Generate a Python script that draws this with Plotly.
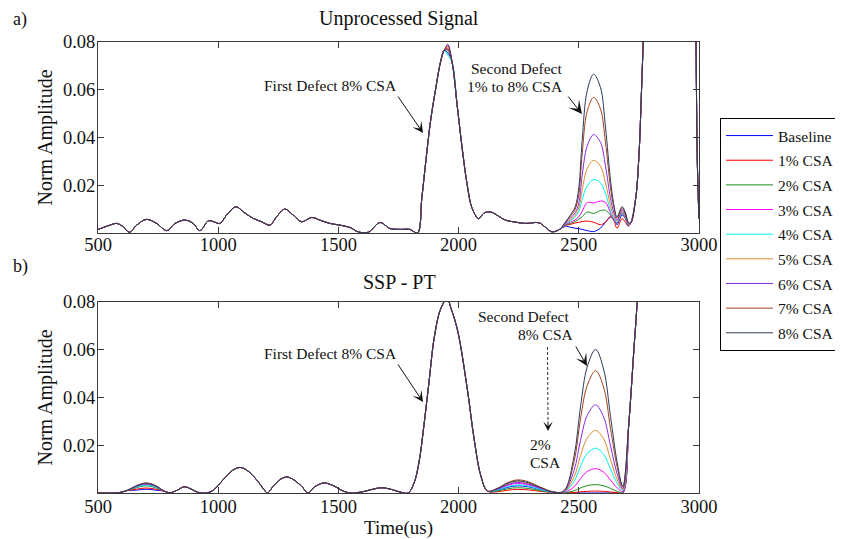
import plotly.graph_objects as go

FONT = "Liberation Serif"
TXT = "#111111"

# ---------------- series ----------------
series_names = ["Baseline", "1% CSA", "2% CSA", "3% CSA", "4% CSA",
                "5% CSA", "6% CSA", "7% CSA", "8% CSA"]
series_colors = ["#0000FF", "#FF0000", "#1E8C1E", "#FF00FF", "#00F0F0",
                 "#E08A2E", "#8A2BE2", "#A5421A", "#2C3A5C"]

x_ticks = [500, 1000, 1500, 2000, 2500, 3000]
y_ticks = [0.02, 0.04, 0.06, 0.08]

# ---------------- a) Unprocessed signal ----------------
top_pre_t = [500, 522, 550, 578, 605, 630, 661, 702, 744, 786, 820, 862, 896, 924,
             959, 979, 1007, 1035, 1074, 1104, 1146, 1181, 1215, 1243, 1277, 1312,
             1347, 1389, 1423, 1465, 1506, 1548, 1582, 1624, 1673, 1714, 1756, 1797,
             1829, 1847, 1862, 1883, 1904, 1925, 1940]
top_pre_v = [0.0015, 0.0023, 0.0033, 0.0040, 0.0026, 0.0003, 0.0033, 0.0057, 0.0040,
             0.0010, 0.0040, 0.0054, 0.0040, 0.0010, 0.0051, 0.0048, 0.0040, 0.0075,
             0.0110, 0.0089, 0.0061, 0.0047, 0.0033, 0.0068, 0.0100, 0.0075, 0.0047,
             0.0065, 0.0054, 0.0040, 0.0033, 0.0023, 0.0005, 0.0003, 0.0044, 0.0019,
             0.0015, 0.0015, 0.0000, 0.0146, 0.0285, 0.0467, 0.0600, 0.0717, 0.0765]
top_apex_t = 1955
top_apex_v = [0.0755, 0.0775, 0.0765, 0.0785, 0.0745, 0.0780, 0.0770, 0.0768, 0.0790]
top_post_t = [1973, 1994, 2015, 2036, 2056, 2084, 2105, 2133, 2167, 2195, 2240, 2278,
              2334, 2360, 2388, 2420]
top_post_v = [0.0715, 0.0535, 0.0354, 0.0200, 0.0104, 0.0060, 0.0083, 0.0088, 0.0070,
              0.0054, 0.0045, 0.0040, 0.0043, 0.0025, 0.0005, 0.0015]

top_def_t = [2445, 2465, 2485, 2500, 2514, 2535, 2562, 2590, 2611, 2632, 2645, 2659,
             2680, 2694, 2705]
top_def_base = [0.0028, 0.0024, 0.0020, 0.0018, 0.0015, 0.0010, 0.0006, 0.0020, 0.0045,
                0.0066, 0.0062, 0.0035, 0.0075, 0.0060, 0.0030]
top_def_1 = [0.0032, 0.0036, 0.0042, 0.0045, 0.0048, 0.0050, 0.0045, 0.0035, 0.0045,
             0.0070, 0.0055, 0.0020, 0.0060, 0.0045, 0.0030]
top_def_2 = [0.0034, 0.0040, 0.0048, 0.0058, 0.0068, 0.0088, 0.0082, 0.0094, 0.0095,
             0.0075, 0.0052, 0.0040, 0.0082, 0.0062, 0.0033]
top_def_3 = [0.0036, 0.0045, 0.0055, 0.0068, 0.0090, 0.0128, 0.0126, 0.0134, 0.0128,
             0.0085, 0.0055, 0.0042, 0.0085, 0.0065, 0.0035]
top_def_4 = [0.0038, 0.0050, 0.0068, 0.0090, 0.0140, 0.0198, 0.0224, 0.0210, 0.0165,
             0.0095, 0.0062, 0.0045, 0.0088, 0.0068, 0.0038]
top_def_5 = [0.0040, 0.0055, 0.0075, 0.0105, 0.0180, 0.0270, 0.0304, 0.0280, 0.0210,
             0.0115, 0.0072, 0.0050, 0.0092, 0.0070, 0.0040]
top_def_6 = [0.0042, 0.0062, 0.0085, 0.0125, 0.0240, 0.0365, 0.0412, 0.0380, 0.0280,
             0.0145, 0.0088, 0.0055, 0.0098, 0.0075, 0.0042]
top_def_7 = [0.0045, 0.0070, 0.0100, 0.0160, 0.0330, 0.0510, 0.0568, 0.0520, 0.0380,
             0.0190, 0.0110, 0.0062, 0.0105, 0.0080, 0.0045]
top_def_8 = [0.0047, 0.0075, 0.0110, 0.0190, 0.0388, 0.0596, 0.0665, 0.0610, 0.0443,
             0.0220, 0.0124, 0.0068, 0.0110, 0.0085, 0.0047]
top_defects = [top_def_base, top_def_1, top_def_2, top_def_3, top_def_4,
               top_def_5, top_def_6, top_def_7, top_def_8]

top_tail_t = [2715, 2736, 2750, 2761, 2768, 2790, 2975, 2985, 2993, 3000]
top_tail_v = [0.0040, 0.0140, 0.0320, 0.0600, 0.0800, 0.1400, 0.1400, 0.1000, 0.0300, 0.0060]

# ---------------- b) SSP - PT ----------------
bot_a_t = [500, 560, 590, 620]
bot_a_v = [0.0, 0.0, 0.0002, 0.0010]
bot_b700_t = [660, 700, 740]
bot_b700_base = [0.0012, 0.0016, 0.0012]
bot_b700_1 = [0.0016, 0.0021, 0.0016]
bot_b700_2 = [0.0022, 0.0030, 0.0022]
bot_b700_3 = [0.0026, 0.0035, 0.0026]
bot_b700_4 = [0.0025, 0.0033, 0.0025]
bot_b700_5 = [0.0030, 0.0040, 0.0029]
bot_b700_6 = [0.0028, 0.0038, 0.0028]
bot_b700_7 = [0.0031, 0.0042, 0.0031]
bot_b700_8 = [0.0030, 0.0041, 0.0030]
bot_b700 = [bot_b700_base, bot_b700_1, bot_b700_2, bot_b700_3, bot_b700_4,
            bot_b700_5, bot_b700_6, bot_b700_7, bot_b700_8]
bot_c_t = [775, 800, 830, 860, 890, 915, 950, 980, 1020, 1060, 1090, 1120, 1160, 1190,
           1205, 1230, 1260, 1285, 1310, 1345, 1375, 1400, 1440, 1480, 1520, 1550, 1600,
           1640, 1680, 1720, 1760, 1790, 1814, 1835, 1855, 1876, 1899, 1925, 1952, 1968,
           1996, 2037, 2065, 2093, 2120]
bot_c_v = [0.0008, 0.0001, 0.0012, 0.0026, 0.0015, 0.0003, 0.0, 0.0012, 0.0055, 0.0095,
           0.0107, 0.0095, 0.0055, 0.0015, 0.0, 0.0030, 0.0058, 0.0067, 0.0058, 0.0030,
           0.0, 0.0025, 0.0042, 0.0030, 0.0008, 0.0, 0.0005, 0.0015, 0.0022, 0.0015,
           0.0003, 0.0, 0.0040, 0.0127, 0.0277, 0.0457, 0.0653, 0.0770, 0.0815, 0.0775,
           0.0680, 0.0430, 0.0223, 0.0070, 0.0008]

bot_def_t = [2160, 2205, 2245, 2290, 2340, 2390, 2437, 2480, 2507, 2535, 2570, 2604,
             2632, 2660, 2683]
bot_def_base = [0.0011, 0.0024, 0.0030, 0.0026, 0.0014, 0.0003, 0.0, 0.0, 0.0, 0.0,
                0.0, 0.0, 0.0, 0.0, 0.0]
bot_def_1 = [0.0005, 0.0012, 0.0015, 0.0013, 0.0007, 0.0002, 0.0, 0.0002, 0.0005,
             0.0007, 0.0008, 0.0007, 0.0004, 0.0002, 0.0001]
bot_def_2 = [0.0008, 0.0018, 0.0022, 0.0019, 0.0010, 0.0002, 0.0001, 0.0009, 0.0021,
             0.0031, 0.0035, 0.0030, 0.0019, 0.0007, 0.0003]
bot_def_3 = [0.0014, 0.0032, 0.0040, 0.0034, 0.0018, 0.0004, 0.0002, 0.0026, 0.0060,
             0.0090, 0.0102, 0.0087, 0.0054, 0.0021, 0.0006]
bot_def_4 = [0.0012, 0.0027, 0.0034, 0.0029, 0.0015, 0.0003, 0.0003, 0.0048, 0.0112,
             0.0166, 0.0188, 0.0161, 0.0100, 0.0040, 0.0010]
bot_def_5 = [0.0017, 0.0038, 0.0048, 0.0041, 0.0022, 0.0005, 0.0004, 0.0067, 0.0156,
             0.0230, 0.0262, 0.0225, 0.0140, 0.0055, 0.0013]
bot_def_6 = [0.0015, 0.0035, 0.0044, 0.0037, 0.0020, 0.0004, 0.0005, 0.0094, 0.0220,
             0.0325, 0.0369, 0.0316, 0.0197, 0.0078, 0.0018]
bot_def_7 = [0.0019, 0.0044, 0.0055, 0.0047, 0.0025, 0.0006, 0.0007, 0.0130, 0.0310,
             0.0450, 0.0512, 0.0440, 0.0270, 0.0107, 0.0024]
bot_def_8 = [0.0018, 0.0041, 0.0051, 0.0043, 0.0023, 0.0005, 0.0008, 0.0153, 0.0360,
             0.0528, 0.0601, 0.0515, 0.0320, 0.0126, 0.0028]
bot_defects = [bot_def_base, bot_def_1, bot_def_2, bot_def_3, bot_def_4,
               bot_def_5, bot_def_6, bot_def_7, bot_def_8]

bot_tail_t = [2708, 2729, 2743, 2760, 2800, 3000]
bot_tail_v = [0.0290, 0.0598, 0.0806, 0.1200, 0.2000, 0.2000]

# ---------------- layout geometry ----------------
OFF = 8                      # page body margin of the html page
W, H = 843 - OFF, 539 - OFF
ML, MT = 98 - OFF, 42 - OFF
PW, PH = 601, 451
MR = W - ML - PW
MB = H - MT - PH


def pp(x, y):
    """reference-picture pixel -> paper coordinates"""
    return ((x - OFF) - ML) / PW, (H - MB - (y - OFF)) / PH


top_dom = [pp(0, 233)[1], 1.0]
bot_dom = [0.0, pp(0, 302)[1]]

fig = go.Figure()
for i, name in enumerate(series_names):
    xt = top_pre_t + [top_apex_t] + top_post_t + top_def_t + top_tail_t
    yt = top_pre_v + [top_apex_v[i]] + top_post_v + top_defects[i] + top_tail_v
    fig.add_trace(go.Scatter(
        x=xt, y=yt, mode="lines", name=name, legendgroup=name,
        line=dict(color=series_colors[i], width=1, shape="spline"),
        xaxis="x", yaxis="y", showlegend=True))
for i, name in enumerate(series_names):
    xb = bot_a_t + bot_b700_t + bot_c_t + bot_def_t + bot_tail_t
    yb = bot_a_v + bot_b700[i] + bot_c_v + bot_defects[i] + bot_tail_v
    fig.add_trace(go.Scatter(
        x=xb, y=yb, mode="lines", name=name, legendgroup=name,
        line=dict(color=series_colors[i], width=1, shape="spline"),
        xaxis="x2", yaxis="y2", showlegend=False))

AXC = "#3a3a3a"
tickfont = dict(family=FONT, size=18.5, color=TXT)
xcommon = dict(range=[500, 3000], tickvals=x_ticks, showline=True, linecolor=AXC,
               linewidth=1, mirror="ticks", ticks="inside", ticklen=6, tickcolor=AXC,
               showgrid=False, zeroline=False, tickfont=tickfont, domain=[0, 1])
ycommon = dict(range=[0, 0.08], tickvals=y_ticks, tickformat=".2f", showline=True,
               linecolor=AXC, linewidth=1, mirror="ticks", ticks="inside", ticklen=6,
               tickcolor=AXC, showgrid=False, zeroline=False, tickfont=tickfont,
               ticklabelstandoff=-2)

ytitle = dict(text="Norm Amplitude", font=dict(family=FONT, size=20, color=TXT), standoff=4)

fig.update_layout(
    width=W, height=H,
    margin=dict(l=ML, r=MR, t=MT, b=MB, autoexpand=False),
    paper_bgcolor="white", plot_bgcolor="white",
    xaxis=dict(xcommon, anchor="y", ticklabelstandoff=-5),
    yaxis=dict(ycommon, domain=top_dom, anchor="x", title=ytitle),
    xaxis2=dict(xcommon, anchor="y2", ticklabelstandoff=-3,
                title=dict(text="Time(us)", font=dict(family=FONT, size=19, color=TXT),
                           standoff=8)),
    yaxis2=dict(ycommon, domain=bot_dom, anchor="x2", title=ytitle),
    legend=dict(x=pp(720, 0)[0], y=pp(0, 118)[1], xanchor="left", yanchor="top",
                bordercolor="#000000", borderwidth=1, bgcolor="white",
                font=dict(family=FONT, size=15.5, color=TXT),
                tracegroupgap=1.5, itemwidth=47),
    showlegend=True,
)

anns = []


def text_ann(x, y, text, size=15.5, xanchor="center"):
    px, py = pp(x, y)
    anns.append(dict(x=px, y=py, xref="paper", yref="paper", text=text, showarrow=False,
                     xanchor=xanchor, yanchor="middle",
                     font=dict(family=FONT, size=size, color=TXT)))


def arrow_ann(tail, tip, size=1.8):
    px, py = pp(*tip)
    anns.append(dict(x=px, y=py, xref="paper", yref="paper", text="", showarrow=True,
                     ax=tail[0] - tip[0], ay=tail[1] - tip[1], arrowhead=3,
                     arrowsize=size, arrowwidth=1, arrowcolor=TXT))


text_ann(20, 20, "a)", size=18)
text_ann(20, 266, "b)", size=18)
text_ann(399, 19, "Unprocessed Signal", size=20)
text_ann(399, 282, "SSP - PT", size=20)

text_ann(330, 86, "First Defect 8% CSA")
arrow_ann((397, 95), (423, 133))
text_ann(516, 69, "Second Defect")
text_ann(515, 87, "1% to 8% CSA")
arrow_ann((567, 95), (582, 114), size=2.2)

text_ann(330, 353, "First Defect 8% CSA")
arrow_ann((397, 363), (423, 402))
text_ann(523, 316, "Second Defect")
text_ann(545, 334, "8% CSA")
arrow_ann((575, 345), (587, 366), size=2.0)
text_ann(540, 444, "2%")
text_ann(545, 462, "CSA")
arrow_ann((548, 420), (548, 431), size=1.6)

fig.update_layout(annotations=anns)

x0, y0 = pp(547.5, 347)
x1, y1 = pp(548, 422)
fig.add_shape(type="line", xref="paper", yref="paper", x0=x0, y0=y0, x1=x1, y1=y1,
              line=dict(color="#333333", width=1, dash="3px,2px"))

fig.write_html("out.html")
